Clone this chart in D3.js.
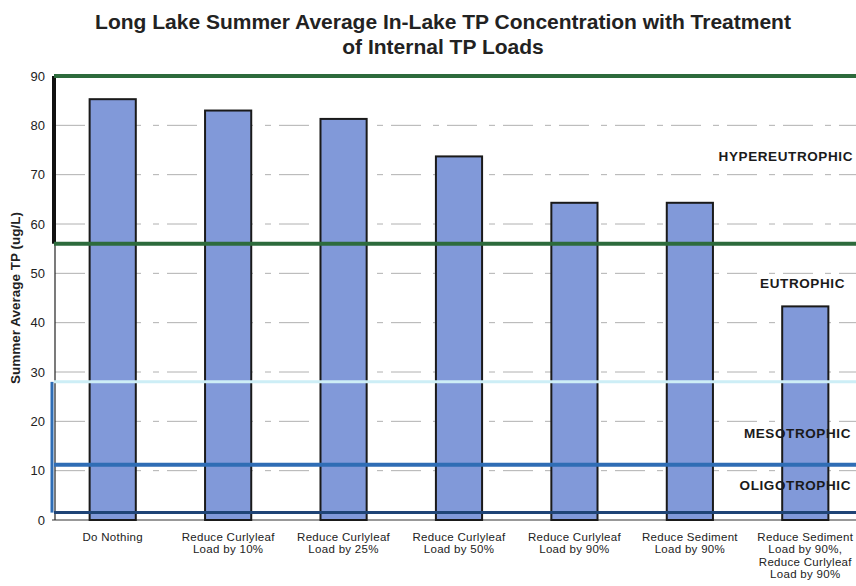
<!DOCTYPE html>
<html><head><meta charset="utf-8">
<script src="https://cdn.jsdelivr.net/npm/d3@7"></script>
<style>body{margin:0;background:#fff}svg{display:block}</style>
</head><body><svg id="c" width="856" height="586"></svg>
<script>
const categories = [
  ["Do Nothing"],
  ["Reduce Curlyleaf","Load by 10%"],
  ["Reduce Curlyleaf","Load by 25%"],
  ["Reduce Curlyleaf","Load by 50%"],
  ["Reduce Curlyleaf","Load by 90%"],
  ["Reduce Sediment","Load by 90%"],
  ["Reduce Sediment","Load by 90%,","Reduce Curlyleaf","Load by 90%"]
];
const values = [85.3, 83.0, 81.3, 73.7, 64.3, 64.3, 43.3];
const yTicks = [0,10,20,30,40,50,60,70,80,90];
const zoneLines = [
  {v:90, color:"#2d6b3c", w:4},
  {v:56, color:"#2d6b3c", w:4},
  {v:28, color:"#cdeef6", w:3},
  {v:11.2, color:"#2f6db5", w:4},
  {v:1.5, color:"#1f4476", w:3}
];
const zoneLabels = [
  {t:"HYPEREUTROPHIC", v:72.8, x:853},
  {t:"EUTROPHIC", v:47, x:845},
  {t:"MESOTROPHIC", v:16.6, x:851},
  {t:"OLIGOTROPHIC", v:6.1, x:851}
];
const font = "Liberation Sans, Arial, sans-serif";
const svg = d3.select("#c");
const x = d3.scaleBand().domain(d3.range(categories.length)).range([55, 863]).paddingInner(0.6).paddingOuter(0.3);
const y = d3.scaleLinear().domain([0,90]).range([520, 76]);

// title
const title = ["Long Lake Summer Average In-Lake TP Concentration with Treatment","of Internal TP Loads"];
svg.append("g").selectAll("text").data(title).join("text")
  .attr("x",443).attr("y",(d,i)=>29+i*25).attr("text-anchor","middle")
  .attr("font-family",font).attr("font-weight","bold").attr("font-size",21).attr("fill","#222")
  .text(d=>d);

// gridlines
svg.append("g").selectAll("line").data(yTicks.filter(d=>d>0 && d<90)).join("line")
  .attr("x1",55).attr("x2",856).attr("y1",d=>y(d)).attr("y2",d=>y(d))
  .attr("stroke","#b0b0b0").attr("stroke-width",1).attr("stroke-dasharray","30,12,6,8");

// y axis
const ya = svg.append("g").attr("transform","translate(52,0)")
  .call(d3.axisLeft(y).tickValues(yTicks).tickSize(0).tickPadding(7));
ya.select(".domain").remove();
ya.selectAll("text").attr("font-family",font).attr("font-size",13).attr("fill","#222");

// axis line at 0
svg.append("line").attr("x1",52).attr("x2",856).attr("y1",y(0)).attr("y2",y(0)).attr("stroke","#333").attr("stroke-width",1);

// left frame segments
svg.append("line").attr("x1",54).attr("x2",54).attr("y1",y(90)).attr("y2",y(56)).attr("stroke","#111").attr("stroke-width",4);
svg.append("line").attr("x1",55).attr("x2",55).attr("y1",y(56)).attr("y2",y(0)).attr("stroke","#222").attr("stroke-width",1.2);
svg.append("line").attr("x1",52).attr("x2",52).attr("y1",y(28)).attr("y2",y(1.5)).attr("stroke","#2f6db5").attr("stroke-width",3);

// bars
svg.append("g").selectAll("rect").data(values).join("rect")
  .attr("x",(d,i)=>x(i)).attr("width",x.bandwidth())
  .attr("y",d=>y(d)).attr("height",d=>y(0)-y(d))
  .attr("fill","#8199d9").attr("stroke","#1a1a1a").attr("stroke-width",2);

// zone lines
svg.append("g").selectAll("line").data(zoneLines).join("line")
  .attr("x1",54).attr("x2",856).attr("y1",d=>y(d.v)).attr("y2",d=>y(d.v))
  .attr("stroke",d=>d.color).attr("stroke-width",d=>d.w);

// zone labels
svg.append("g").selectAll("text").data(zoneLabels).join("text")
  .attr("x",d=>d.x).attr("y",d=>y(d.v)).attr("text-anchor","end")
  .attr("font-family",font).attr("font-weight","bold").attr("font-size",13.5).attr("letter-spacing",0.6)
  .attr("fill","#1a1a1a").text(d=>d.t);

// x labels
const xl = svg.append("g").selectAll("text").data(categories).join("text")
  .attr("text-anchor","middle").attr("font-family",font).attr("font-size",11.5).attr("letter-spacing",0.3).attr("fill","#222")
  .attr("transform",(d,i)=>`translate(${x(i)+x.bandwidth()/2},541)`);
xl.selectAll("tspan").data(d=>d).join("tspan").attr("x",0).attr("dy",(d,i)=>i===0?0:12.4).text(d=>d);

// y label
svg.append("text").attr("transform","translate(20,298) rotate(-90)").attr("text-anchor","middle")
  .attr("font-family",font).attr("font-weight","bold").attr("font-size",13.5).attr("fill","#222")
  .text("Summer Average TP (ug/L)");
</script></body></html>
